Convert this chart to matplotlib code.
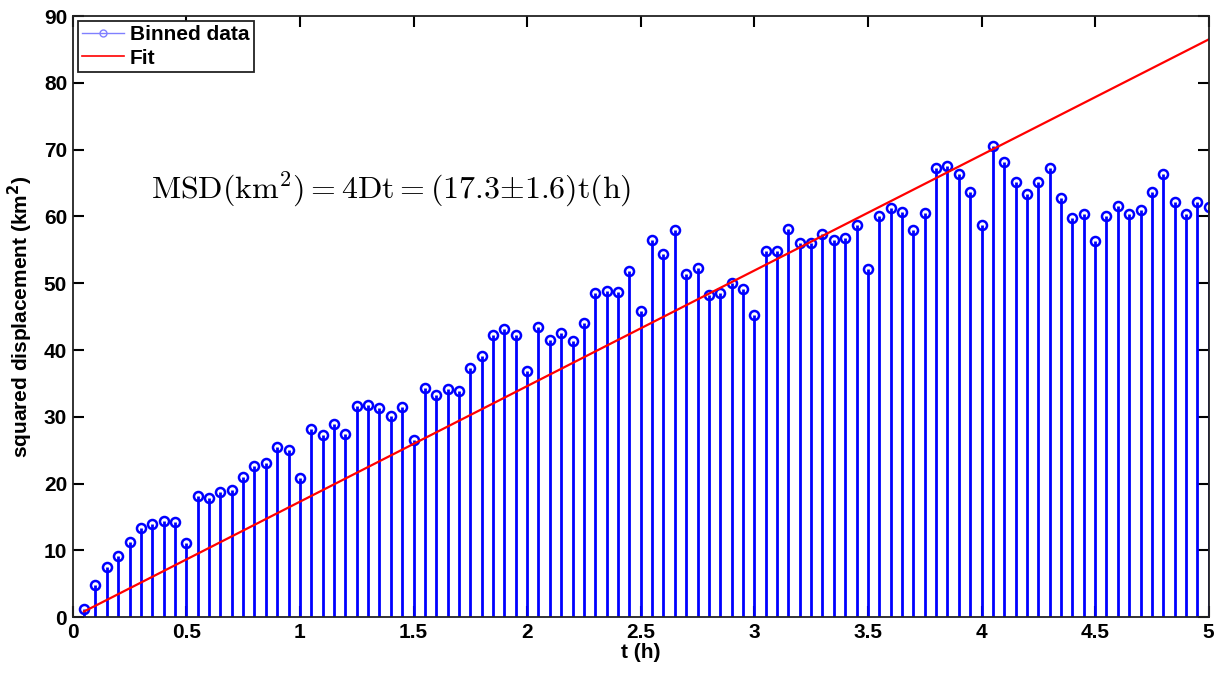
import numpy as np
import matplotlib
matplotlib.use('Agg')
import matplotlib.pyplot as plt
from matplotlib.lines import Line2D

# binned data (bin centres in hours, MSD in km^2)
t = np.round(np.arange(1, 101) * 0.05, 2)
msd = [1.3, 4.9, 7.5, 9.2, 11.2, 13.3, 14.0, 14.4, 14.3, 11.1,
       18.2, 17.8, 18.7, 19.0, 21.0, 22.7, 23.1, 25.5, 25.1, 20.9,
       28.2, 27.3, 28.9, 27.4, 31.6, 31.8, 31.3, 30.1, 31.5, 26.6,
       34.3, 33.3, 34.2, 33.9, 37.3, 39.1, 42.2, 43.2, 42.2, 36.9,
       43.4, 41.5, 42.5, 41.4, 44.1, 48.5, 48.9, 48.7, 51.8, 45.9,
       56.5, 54.4, 57.9, 51.4, 52.3, 48.2, 48.5, 50.0, 49.2, 45.3,
       54.8, 54.9, 58.1, 56.0, 56.0, 57.3, 56.4, 56.8, 58.7, 52.2,
       60.1, 61.3, 60.6, 58.0, 60.5, 67.3, 67.6, 66.4, 63.7, 58.7,
       70.6, 68.1, 65.1, 63.3, 65.1, 67.3, 62.7, 59.7, 60.4, 56.3,
       60.1, 61.6, 60.4, 60.9, 63.6, 66.4, 62.2, 60.4, 62.1, 61.4]

# linear fit MSD = 4Dt
fit_slope = 17.3
fit_err = 1.6

xticks = [0, 0.5, 1, 1.5, 2, 2.5, 3, 3.5, 4, 4.5, 5]
xtick_labels = ['0', '0.5', '1', '1.5', '2', '2.5', '3', '3.5', '4', '4.5', '5']
yticks = [0, 10, 20, 30, 40, 50, 60, 70, 80, 90]

plt.rcParams['font.family'] = ['Liberation Sans', 'DejaVu Sans']
plt.rcParams['mathtext.fontset'] = 'cm'

fig = plt.figure(figsize=(12.26, 6.73), dpi=100)
ax = fig.add_axes([0.0593, 0.0828, 0.9266, 0.8934])

# stem plot
markers, stems, base = ax.stem(t, msd, linefmt='b-', markerfmt='bo', basefmt=' ')
stems.set_linewidth(2.0)
stems.set_color('#0000ff')
markers.set_markerfacecolor('none')
markers.set_markeredgecolor('#0000ff')
markers.set_markersize(6.5)
markers.set_markeredgewidth(1.8)

# fit line
ax.plot(t, fit_slope * t, color='#ff0000', lw=1.6)

eq = r'$\mathrm{MSD(km^2)} = \mathrm{4Dt} = (%.1f{\pm}%.1f)\mathrm{t(h)}$' % (fit_slope, fit_err)
ax.text(0.345, 64, eq, fontsize=23, va='center', ha='left')

ax.set_xlim(0, 5)
ax.set_ylim(0, 90)
ax.set_xticks(xticks)
ax.set_xticklabels(xtick_labels)
ax.set_yticks(yticks)
ax.tick_params(direction='in', length=8, width=1.5, top=True, right=True,
               labelsize=15, pad=4)
for lab in ax.get_xticklabels() + ax.get_yticklabels():
    lab.set_fontweight('bold')
for sp in ax.spines.values():
    sp.set_linewidth(1.3)
    sp.set_color('#222222')

ax.set_xlabel('t (h)', fontsize=15, fontweight='bold', labelpad=1)
ax.set_ylabel(r'squared displacement (km$^\mathbf{2}$)', fontsize=15,
              fontweight='bold', labelpad=6, math_fontfamily='dejavusans')

handles = [Line2D([], [], color='#8080ff', lw=1, marker='o', markersize=5,
                  markerfacecolor='none', markeredgecolor='#8080ff'),
           Line2D([], [], color='#ff0000', lw=1.2)]
leg = ax.legend(handles, ['Binned data', 'Fit'], loc='upper left',
                prop={'weight': 'bold', 'size': 15}, fancybox=False,
                framealpha=1, edgecolor='#222222', borderaxespad=0.25,
                handlelength=2.0, handletextpad=0.3, borderpad=0.2,
                labelspacing=0.2)
leg.get_frame().set_linewidth(1.3)

fig.savefig('out.png', dpi=100)
